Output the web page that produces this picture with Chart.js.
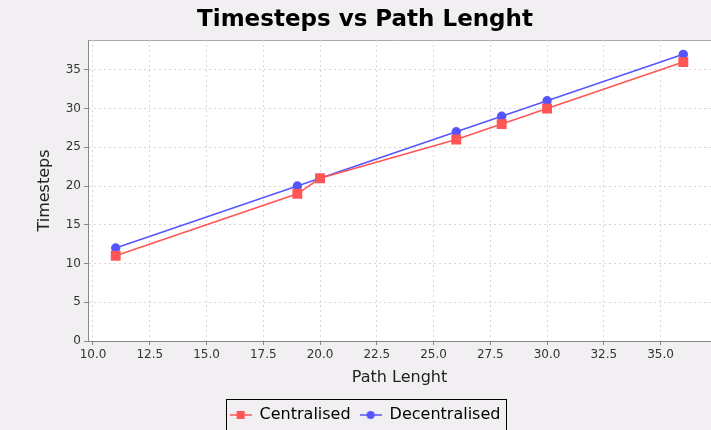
<!DOCTYPE html>
<html>
<head>
<meta charset="utf-8">
<script src="https://cdn.jsdelivr.net/npm/chart.js@4/dist/chart.umd.min.js"></script>
<style>
  html, body { margin: 0; padding: 0; overflow: hidden; background: #f2eff2; }
  #wrap { width: 730px; height: 433px; }
</style>
</head>
<body>
<div id="wrap"><canvas id="chart" width="730" height="433"></canvas></div>
<script>
// data
const pathLength = [11, 19, 20, 26, 28, 30, 36];
const centralised = [11, 19, 21, 26, 28, 30, 36];
const decentralised = [12, 20, 21, 27, 29, 31, 37];
const xTicks = [10, 12.5, 15, 17.5, 20, 22.5, 25, 27.5, 30, 32.5, 35];
const yTicks = [0, 5, 10, 15, 20, 25, 30, 35];

const RED = '#ff5555';
const BLUE = '#5555ff';
const FONT = 'DejaVu Sans';

function pairs(ys) {
    return pathLength.map((x, i) => ({ x: x, y: ys[i] }));
}

// little line + marker pictures for the legend
function legendIcon(color, shape) {
    const c = document.createElement('canvas');
    c.width = 22;
    c.height = 12;
    const g = c.getContext('2d');
    g.strokeStyle = color;
    g.lineWidth = 1.5;
    g.beginPath();
    g.moveTo(0, 6);
    g.lineTo(22, 6);
    g.stroke();
    g.fillStyle = color;
    if (shape === 'rect') {
        g.fillRect(7, 2, 8, 8);
    } else {
        g.beginPath();
        g.arc(11, 6, 4, 0, Math.PI * 2);
        g.fill();
    }
    return c;
}

const backgroundPlugin = {
    id: 'background',
    beforeDraw(chart) {
        const { ctx, chartArea: a } = chart;
        ctx.save();
        ctx.fillStyle = '#f2eff2';
        ctx.fillRect(0, 0, chart.width, chart.height);
        ctx.fillStyle = '#ffffff';
        ctx.fillRect(a.left, a.top, a.right - a.left, a.bottom - a.top);
        ctx.strokeStyle = '#aaaaaa';
        ctx.lineWidth = 1;
        ctx.beginPath();
        ctx.moveTo(a.left, a.top + 0.5);
        ctx.lineTo(a.right, a.top + 0.5);
        ctx.stroke();
        ctx.restore();
    },
    afterDraw(chart) {
        // box round the legend
        const hb = chart.legend.legendHitBoxes;
        if (!hb || !hb.length) return;
        const last = hb[hb.length - 1];
        const left = hb[0].left - 4;
        const right = last.left + last.width + 5;
        const top = hb[0].top - 8;
        const ctx = chart.ctx;
        ctx.save();
        ctx.strokeStyle = '#000000';
        ctx.lineWidth = 1;
        ctx.strokeRect(Math.round(left) + 0.5, Math.round(top) + 0.5, Math.round(right - left), 40);
        ctx.restore();
    }
};

new Chart(document.getElementById('chart'), {
    type: 'scatter',
    data: {
        datasets: [{
            label: 'Centralised',
            data: pairs(centralised),
            showLine: true,
            borderColor: RED,
            backgroundColor: RED,
            borderWidth: 1.5,
            pointStyle: 'rect',
            pointRadius: 7,
            pointHoverRadius: 7,
            pointBorderWidth: 0
        }, {
            label: 'Decentralised',
            data: pairs(decentralised),
            showLine: true,
            borderColor: BLUE,
            backgroundColor: BLUE,
            borderWidth: 1.5,
            pointStyle: 'circle',
            pointRadius: 4.7,
            pointHoverRadius: 4.7,
            pointBorderWidth: 0
        }]
    },
    plugins: [backgroundPlugin],
    options: {
        responsive: false,
        animation: false,
        layout: {
            padding: { left: 19, right: 19, top: 0, bottom: 0 }
        },
        plugins: {
            title: {
                display: true,
                text: 'Timesteps vs Path Lenght',
                color: '#000000',
                font: { family: FONT, size: 23, weight: 'bold' },
                padding: { top: 6.5, bottom: 5.9 }
            },
            legend: {
                position: 'bottom',
                labels: {
                    color: '#000000',
                    font: { family: FONT, size: 16 },
                    usePointStyle: true,
                    pointStyleWidth: 22,
                    padding: 9,
                    generateLabels: () => [
                        { text: 'Centralised', pointStyle: legendIcon(RED, 'rect'), datasetIndex: 0, fontColor: '#000' },
                        { text: 'Decentralised', pointStyle: legendIcon(BLUE, 'circle'), datasetIndex: 1, fontColor: '#000' }
                    ]
                }
            },
            tooltip: { enabled: false }
        },
        scales: {
            x: {
                type: 'linear',
                position: 'bottom',
                min: 9.78,
                max: 37.22,
                afterBuildTicks: (scale) => { scale.ticks = xTicks.map(v => ({ value: v })); },
                afterFit: (scale) => { scale.height = 57; },
                ticks: {
                    color: '#333333',
                    font: { family: FONT, size: 12 },
                    padding: 3,
                    maxRotation: 0,
                    autoSkip: false,
                    callback: (v) => Number(v).toFixed(1)
                },
                grid: {
                    color: '#ddd3da',
                    tickColor: '#888888',
                    tickLength: 4
                },
                border: { color: '#888888', dash: [2, 3] },
                title: {
                    display: true,
                    text: 'Path Lenght',
                    color: '#222222',
                    font: { family: FONT, size: 16 },
                    padding: { top: 0, bottom: 10.4 }
                }
            },
            y: {
                type: 'linear',
                min: 0,
                max: 38.85,
                afterBuildTicks: (scale) => { scale.ticks = yTicks.map(v => ({ value: v })); },
                afterFit: (scale) => { scale.width = 69; },
                ticks: {
                    color: '#333333',
                    font: { family: FONT, size: 12 },
                    padding: 3,
                    autoSkip: false
                },
                grid: {
                    color: '#ddd3da',
                    tickColor: '#888888',
                    tickLength: 4
                },
                border: { color: '#888888', dash: [2, 3] },
                title: {
                    display: true,
                    text: 'Timesteps',
                    color: '#222222',
                    font: { family: FONT, size: 16 },
                    padding: { top: 16.4, bottom: 0 }
                }
            }
        }
    }
});
</script>
</body>
</html>
